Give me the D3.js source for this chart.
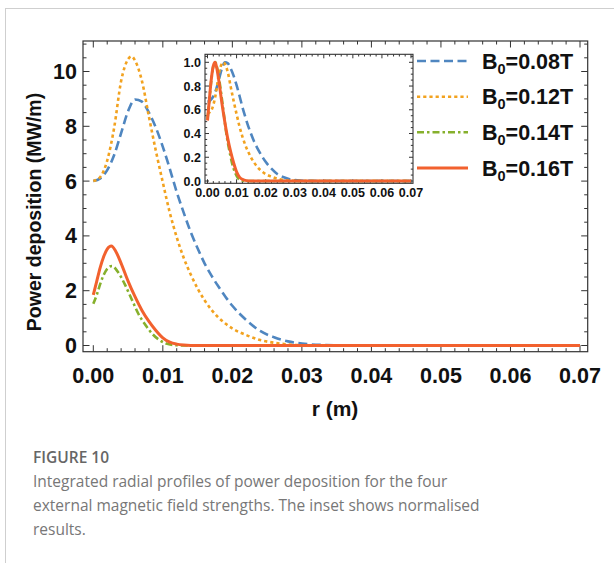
<!DOCTYPE html>
<html>
<head>
<meta charset="utf-8">
<script src="https://cdn.jsdelivr.net/npm/d3@7"></script>
<style>
  html, body { margin: 0; padding: 0; background: #fff; }
  svg { display: block; }
</style>
</head>
<body>
<svg id="chart" width="614" height="563"></svg>
<script>
// Radial position r (m) for each sampled point, per field strength
const rBlue   = [0, 0.001, 0.002, 0.003, 0.004, 0.005, 0.006, 0.007, 0.008, 0.009, 0.010, 0.011, 0.012, 0.013, 0.014, 0.015, 0.016, 0.017, 0.018, 0.019, 0.020, 0.022, 0.024, 0.026, 0.028, 0.030, 0.032, 0.035, 0.040, 0.070];
const pBlue   = [6.00, 6.10, 6.40, 6.95, 7.75, 8.55, 8.98, 8.90, 8.50, 7.95, 7.25, 6.45, 5.60, 4.85, 4.15, 3.55, 3.00, 2.55, 2.15, 1.78, 1.45, 0.93, 0.53, 0.30, 0.15, 0.07, 0.03, 0.01, 0.0, 0.0];

const rOrange = [0, 0.001, 0.002, 0.003, 0.004, 0.005, 0.0055, 0.006, 0.007, 0.008, 0.009, 0.010, 0.011, 0.012, 0.013, 0.014, 0.015, 0.016, 0.017, 0.018, 0.019, 0.020, 0.022, 0.024, 0.026, 0.028, 0.030, 0.035, 0.070];
const pOrange = [6.00, 6.15, 6.75, 7.95, 9.65, 10.45, 10.55, 10.40, 9.65, 8.35, 7.10, 5.95, 4.85, 3.95, 3.20, 2.60, 2.08, 1.65, 1.30, 1.02, 0.80, 0.62, 0.38, 0.20, 0.10, 0.04, 0.01, 0.0, 0.0];

const rGreen  = [0, 0.0005, 0.001, 0.0015, 0.002, 0.0027, 0.0035, 0.0045, 0.0055, 0.0065, 0.0075, 0.0085, 0.0095, 0.0105, 0.0115, 0.013, 0.070];
const pGreen  = [1.52, 1.85, 2.25, 2.58, 2.80, 2.90, 2.70, 2.25, 1.70, 1.15, 0.75, 0.42, 0.20, 0.07, 0.02, 0.0, 0.0];

const rRed    = [0, 0.0005, 0.001, 0.0015, 0.002, 0.0026, 0.0032, 0.004, 0.005, 0.006, 0.007, 0.008, 0.009, 0.010, 0.011, 0.012, 0.013, 0.015, 0.070];
const pRed    = [1.85, 2.35, 2.85, 3.25, 3.52, 3.63, 3.45, 3.00, 2.35, 1.78, 1.28, 0.88, 0.55, 0.28, 0.12, 0.05, 0.02, 0.0, 0.0];

const seriesNames = ["B0=0.08T", "B0=0.12T", "B0=0.14T", "B0=0.16T"];
const seriesFields = ["0.08T", "0.12T", "0.14T", "0.16T"];

const xTicks = [0, 0.01, 0.02, 0.03, 0.04, 0.05, 0.06, 0.07];
const yTicks = [0, 2, 4, 6, 8, 10];
const insetYTicks = [0, 0.2, 0.4, 0.6, 0.8, 1.0];

const captionTitle = "FIGURE 10";
const captionLines = [
  "Integrated radial profiles of power deposition for the four",
  "external magnetic field strengths. The inset shows normalised",
  "results."
];

const styles = [
  { color: "#4f86c0", dash: "9,4.5", width: 2.6 },
  { color: "#f2a21f", dash: "3.2,3", width: 2.6 },
  { color: "#86b02c", dash: "7,3,2.5,3", width: 2.6 },
  { color: "#f2612e", dash: null, width: 3 }
];

const series = [
  { r: rBlue, p: pBlue },
  { r: rOrange, p: pOrange },
  { r: rGreen, p: pGreen },
  { r: rRed, p: pRed }
].map((s, i) => ({
  name: seriesNames[i],
  field: seriesFields[i],
  style: styles[i],
  points: s.r.map((r, j) => ({ r, p: s.p[j] }))
}));

// Normalised version of each profile for the inset
series.forEach(s => {
  const peak = d3.max(s.points, d => d.p);
  s.norm = s.points.map(d => ({ r: d.r, p: d.p / peak }));
});

const svg = d3.select("#chart");
const FONT = "'Liberation Sans', Arial, Helvetica, sans-serif";

// Card outline
svg.append("rect")
  .attr("x", 5.5).attr("y", 8.5)
  .attr("width", 640).attr("height", 600)
  .attr("fill", "#fff").attr("stroke", "#cfcfcf").attr("stroke-width", 1);

// ---- main plot ----
const frame = { left: 83, right: 587.7, top: 41, bottom: 351.7 };
const x = d3.scaleLinear().domain([0, 0.07]).range([93.3, 580]);
const y = d3.scaleLinear().domain([0, 10]).range([345.5, 71.5]);

const main = svg.append("g");

// Frame ticks (inside, on all four sides)
const tickColor = "#333";
function frameTicks(g, fr, xs, ys, xMajor, xMinor, yMajor, yMinor, majLen, minLen) {
  const t = g.append("g").attr("stroke", tickColor).attr("stroke-width", 1);
  xMinor.forEach(v => {
    const isMaj = xMajor.some(m => Math.abs(m - v) < 1e-9);
    const L = isMaj ? majLen : minLen;
    const px = xs(v);
    t.append("line").attr("x1", px).attr("x2", px).attr("y1", fr.bottom).attr("y2", fr.bottom - L);
    t.append("line").attr("x1", px).attr("x2", px).attr("y1", fr.top).attr("y2", fr.top + L);
  });
  yMinor.forEach(v => {
    const isMaj = yMajor.some(m => Math.abs(m - v) < 1e-9);
    const L = isMaj ? majLen : minLen;
    const py = ys(v);
    if (py < fr.top || py > fr.bottom) return;
    t.append("line").attr("y1", py).attr("y2", py).attr("x1", fr.left).attr("x2", fr.left + L);
    t.append("line").attr("y1", py).attr("y2", py).attr("x1", fr.right).attr("x2", fr.right - L);
  });
}

const xMinorMain = d3.range(0, 36).map(i => i * 0.002);
const yMinorMain = d3.range(0, 23).map(i => i * 0.5);
frameTicks(main, frame, x, y, xTicks, xMinorMain, yTicks, yMinorMain, 6.5, 3.5);

main.append("rect")
  .attr("x", frame.left).attr("y", frame.top)
  .attr("width", frame.right - frame.left).attr("height", frame.bottom - frame.top)
  .attr("fill", "none").attr("stroke", tickColor).attr("stroke-width", 1.2);

// Tick labels
main.append("g").selectAll("text").data(xTicks).join("text")
  .attr("x", d => x(d)).attr("y", 383)
  .attr("text-anchor", "middle")
  .attr("font-family", FONT).attr("font-weight", "bold").attr("font-size", 21.5)
  .attr("fill", "#111")
  .text(d => d3.format(".2f")(d));

main.append("g").selectAll("text").data(yTicks).join("text")
  .attr("x", 77).attr("y", d => y(d) + 7.5)
  .attr("text-anchor", "end")
  .attr("font-family", FONT).attr("font-weight", "bold").attr("font-size", 21.5)
  .attr("fill", "#111")
  .text(d => d);

// Axis titles
main.append("text")
  .attr("x", 335).attr("y", 416)
  .attr("text-anchor", "middle")
  .attr("font-family", FONT).attr("font-weight", "bold").attr("font-size", 21)
  .attr("fill", "#111")
  .text("r (m)");

main.append("text")
  .attr("transform", "translate(41,212) rotate(-90)")
  .attr("text-anchor", "middle")
  .attr("font-family", FONT).attr("font-weight", "bold").attr("font-size", 19.5)
  .attr("fill", "#111")
  .text("Power deposition (MW/m)");

// Curves
const line = d3.line().x(d => x(d.r)).y(d => y(d.p)).curve(d3.curveMonotoneX);
main.append("g").selectAll("path").data(series).join("path")
  .attr("d", d => line(d.points))
  .attr("fill", "none")
  .attr("stroke", d => d.style.color)
  .attr("stroke-width", d => d.style.width)
  .attr("stroke-dasharray", d => d.style.dash)
  .attr("stroke-linejoin", "round");

// ---- legend ----
const legendY = [61, 96.7, 132.3, 168];
const legend = svg.append("g");
series.forEach((s, i) => {
  legend.append("line")
    .attr("x1", 417).attr("x2", 468)
    .attr("y1", legendY[i]).attr("y2", legendY[i])
    .attr("stroke", s.style.color)
    .attr("stroke-width", s.style.width)
    .attr("stroke-dasharray", s.style.dash);
  const t = legend.append("text")
    .attr("x", 482).attr("y", legendY[i] + 7.5)
    .attr("font-family", FONT).attr("font-weight", "bold").attr("font-size", 21.5)
    .attr("fill", "#111");
  t.append("tspan").text("B");
  t.append("tspan").attr("font-size", 14.5).attr("dy", 5).text("0");
  t.append("tspan").attr("dy", -5).text("=" + s.field);
});

// ---- inset ----
const iframe = { left: 205, right: 413, top: 54.3, bottom: 183.3 };
const ix = d3.scaleLinear().domain([0, 0.07]).range([207.5, 411]);
const iy = d3.scaleLinear().domain([0, 1]).range([181, 62.3]);
const inset = svg.append("g");

inset.append("rect")
  .attr("x", iframe.left).attr("y", iframe.top)
  .attr("width", iframe.right - iframe.left).attr("height", iframe.bottom - iframe.top)
  .attr("fill", "#fff");

const xMinorInset = d3.range(0, 36).map(i => i * 0.002);
const yMinorInset = d3.range(0, 22).map(i => i * 0.05);
frameTicks(inset, iframe, ix, iy, xTicks, xMinorInset, insetYTicks, yMinorInset, 4, 2.2);

const iline = d3.line().x(d => ix(d.r)).y(d => iy(d.p)).curve(d3.curveMonotoneX);
inset.append("g").selectAll("path").data(series).join("path")
  .attr("d", d => iline(d.norm))
  .attr("fill", "none")
  .attr("stroke", d => d.style.color)
  .attr("stroke-width", d => d.style.width)
  .attr("stroke-dasharray", d => d.style.dash)
  .attr("stroke-linejoin", "round");

inset.append("rect")
  .attr("x", iframe.left).attr("y", iframe.top)
  .attr("width", iframe.right - iframe.left).attr("height", iframe.bottom - iframe.top)
  .attr("fill", "none").attr("stroke", tickColor).attr("stroke-width", 1.1);

inset.append("g").selectAll("text").data(xTicks).join("text")
  .attr("x", d => ix(d)).attr("y", 197)
  .attr("text-anchor", "middle")
  .attr("font-family", FONT).attr("font-weight", "bold").attr("font-size", 12.5)
  .attr("fill", "#111")
  .text(d => d3.format(".2f")(d));

inset.append("g").selectAll("text").data(insetYTicks).join("text")
  .attr("x", 201).attr("y", d => iy(d) + 4.5)
  .attr("text-anchor", "end")
  .attr("font-family", FONT).attr("font-weight", "bold").attr("font-size", 12.5)
  .attr("fill", "#111")
  .text(d => d3.format(".1f")(d));

// ---- caption ----
const cap = svg.append("g").attr("font-family", "'Open Sans', 'Noto Sans', sans-serif");
cap.append("text")
  .attr("x", 33).attr("y", 463)
  .attr("font-size", 15.5).attr("font-weight", 600).attr("fill", "#666")
  .text(captionTitle);
cap.selectAll("text.line").data(captionLines).join("text")
  .attr("class", "line")
  .attr("x", 33).attr("y", (d, i) => 487 + i * 24)
  .attr("font-size", 15.5).attr("fill", "#777")
  .text(d => d);
</script>
</body>
</html>
